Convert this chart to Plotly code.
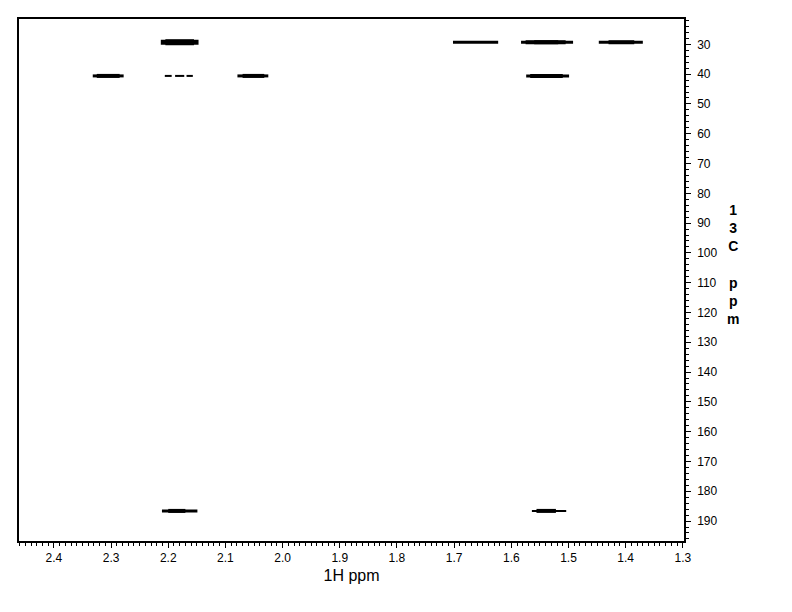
import plotly.graph_objects as go

# Cross-peak data: 1H start, 1H end, 13C shift, contour level (1 = weak, 3 = strong)
h_start = [2.213, 2.332, 2.206, 2.188, 2.168, 2.079, 1.702, 1.583, 1.447, 1.574, 2.211, 1.564]
h_end   = [2.147, 2.278, 2.194, 2.172, 2.157, 2.025, 1.623, 1.492, 1.370, 1.499, 2.149, 1.504]
c_shift = [29.3, 40.6, 40.6, 40.6, 40.6, 40.6, 29.3, 29.3, 29.3, 40.6, 186.6, 186.6]
level   = [3, 2, 1, 1, 1, 2, 2, 2, 2, 2, 2, 1]
# Stronger inner cores of some peaks: 1H start, 1H end, 13C shift, level
core_start = [2.205, 2.325, 2.070, 1.575, 1.560, 1.430, 1.567, 2.200, 1.556]
core_end   = [2.155, 2.285, 2.032, 1.505, 1.518, 1.385, 1.510, 2.170, 1.522]
core_c     = [29.3, 40.6, 40.6, 29.3, 29.3, 29.3, 40.6, 186.6, 186.6]
core_level = [3, 2, 2, 2, 1, 1, 2, 2, 2]

x_tick_vals = [2.4, 2.3, 2.2, 2.1, 2.0, 1.9, 1.8, 1.7, 1.6, 1.5, 1.4, 1.3]
y_tick_vals = list(range(30, 200, 10))

width_outer = {1: 2, 2: 3, 3: 5}
width_core = {1: 4, 2: 4, 3: 6}

fig = go.Figure()

def add_group(starts, ends, cs, lvls, wmap):
    groups = {}
    for s, e, c, l in zip(starts, ends, cs, lvls):
        g = groups.setdefault(wmap[l], ([], []))
        g[0].extend([s, e, None])
        g[1].extend([c, c, None])
    for w, (xs, ys) in groups.items():
        fig.add_trace(go.Scatter(x=xs, y=ys, mode="lines",
                                 line=dict(color="black", width=w),
                                 hoverinfo="skip", showlegend=False))

add_group(h_start, h_end, c_shift, level, width_outer)
add_group(core_start, core_end, core_c, core_level, width_core)

font = "Liberation Sans, Arial, sans-serif"
fig.update_layout(
    width=784, height=604,
    margin=dict(l=10, r=108, t=9, b=71),
    paper_bgcolor="white", plot_bgcolor="white",
    font=dict(family=font, color="black", size=12),
    showlegend=False,
    xaxis=dict(range=[2.461, 1.298], showgrid=False, zeroline=False,
               showline=True, linecolor="black", linewidth=1.5, mirror=True,
               ticks="outside", ticklen=5, tickwidth=1, tickcolor="black",
               tickvals=x_tick_vals, ticktext=[f"{v:.1f}" for v in x_tick_vals],
               tickfont=dict(size=12, family=font),
               minor=dict(ticks="outside", ticklen=3, dtick=0.01, tick0=1.3, tickcolor="black"),
               title=dict(text="1H ppm", font=dict(size=16, family=font), standoff=6)),
    yaxis=dict(range=[196.7, 21.5], side="right", showgrid=False, zeroline=False,
               showline=True, linecolor="black", linewidth=1.5, mirror=True,
               ticks="outside", ticklen=5, tickwidth=1, tickcolor="black",
               tickvals=y_tick_vals, tickfont=dict(size=12, family=font),
               ticklabelstandoff=4,
               minor=dict(ticks="outside", ticklen=3, dtick=2, tick0=20, tickcolor="black")),
)

fig.add_annotation(text="<b>1<br>3<br>C<br> <br>p<br>p<br>m</b>", xref="paper", yref="paper",
                   x=1.0736, y=0.53, showarrow=False, xanchor="center", yanchor="middle",
                   font=dict(size=14, family=font), align="center")

fig.write_html("out.html")
